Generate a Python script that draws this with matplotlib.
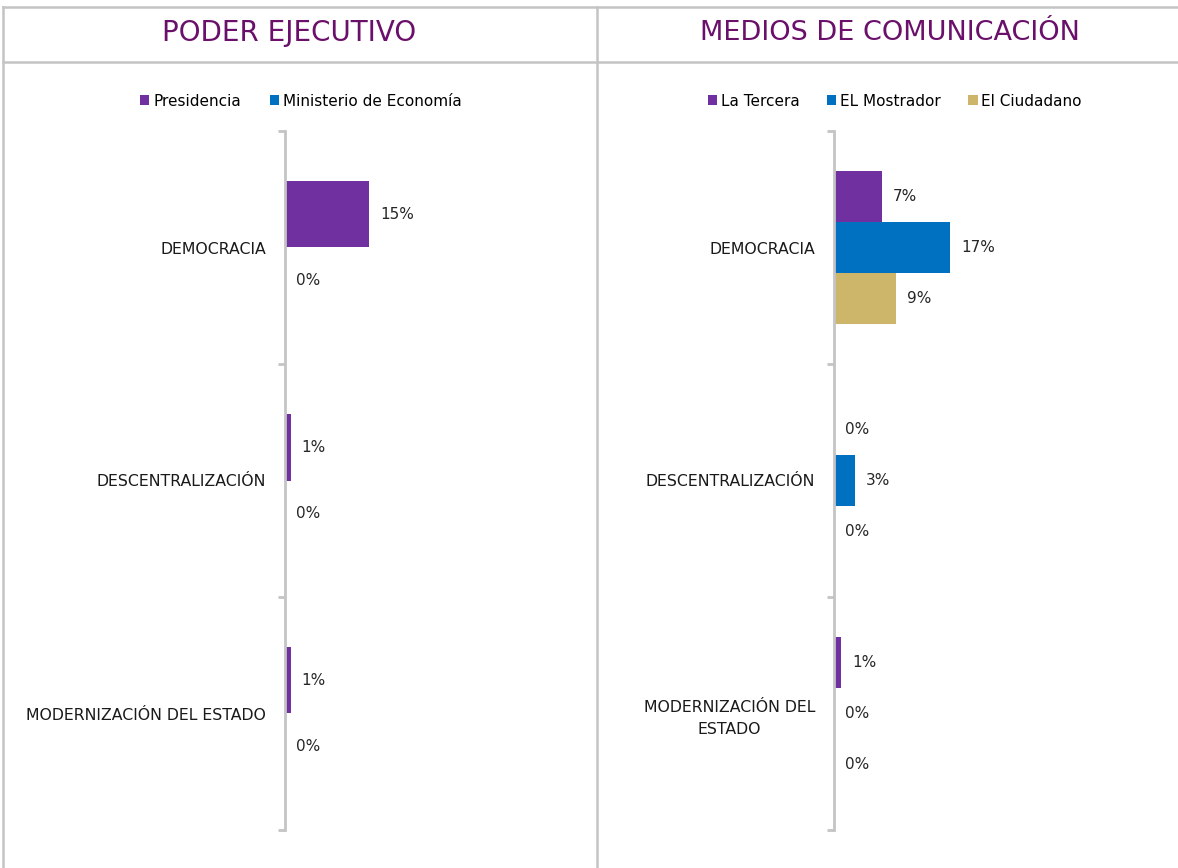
import numpy as np
import matplotlib.pyplot as plt
from matplotlib.lines import Line2D

W, H = 1178, 868

categorias = ["DEMOCRACIA", "DESCENTRALIZACIÓN", "MODERNIZACIÓN DEL ESTADO"]
categorias_der = ["DEMOCRACIA", "DESCENTRALIZACIÓN", "MODERNIZACIÓN DEL\nESTADO"]

# poder ejecutivo
series_izq = ["Presidencia", "Ministerio de Economía"]
presidencia = [15, 1, 1]
ministerio = [0, 0, 0]

# medios de comunicacion
series_der = ["La Tercera", "EL Mostrador", "El Ciudadano"]
la_tercera = [7, 0, 1]
el_mostrador = [17, 3, 0]
el_ciudadano = [9, 0, 0]

morado = "#7030A0"
azul = "#0070C0"
dorado = "#CDB56A"
gris = "#C4C4C4"
titulo_color = "#6A0F6A"
plt.rcParams['font.family'] = ['DejaVu Sans']

fig = plt.figure(figsize=(W / 100, H / 100), dpi=100)


def fx(px):
    return px / W


def fy(py):
    return 1 - py / H


# bordes de la tabla
for (x0, y0, x1, y1) in [(3, 7, W, 7), (3, 62, W, 62), (3, 7, 3, H), (597, 7, 597, H)]:
    fig.add_artist(Line2D([fx(x0), fx(x1)], [fy(y0), fy(y1)], color=gris, lw=1.8))

fig.text(fx(289), fy(33), "PODER EJECUTIVO", ha="center", va="center",
         fontsize=20, color=titulo_color, fontweight="medium")
fig.text(fx(890), fy(33), "MEDIOS DE COMUNICACIÓN", ha="center", va="center",
         fontsize=19.5, color=titulo_color, fontweight="medium")


def panel(x_axis, px_per_pct, cats, valores, colores, nombres, offs, alto, legend_x, colsp):
    ax_top, ax_bot = 131, 830
    width_px = 290
    ax = fig.add_axes([fx(x_axis), fy(ax_bot), fx(width_px), (ax_bot - ax_top) / H])
    y = np.arange(len(cats))
    for vals, col, nom, off in zip(valores, colores, nombres, offs):
        bars = ax.barh(y + off, vals, height=alto, color=col, label=nom)
        for b, v in zip(bars, vals):
            ax.text(b.get_width() + 11 / px_per_pct, b.get_y() + b.get_height() / 2,
                    f"{v}%", va="center", ha="left", fontsize=11, color="#262626")
    ax.set_xlim(0, width_px / px_per_pct)
    ax.set_ylim(2.5, -0.5)
    for s in ["top", "right", "bottom"]:
        ax.spines[s].set_visible(False)
    ax.spines["left"].set_color(gris)
    ax.spines["left"].set_linewidth(2)
    ax.set_xticks([])
    ax.set_yticks(y)
    ax.set_yticklabels(cats, fontsize=11.3, color="#1a1a1a", multialignment="center",
                       linespacing=1.55)
    ax.tick_params(axis="y", which="major", length=0, pad=13.5)
    ax.set_yticks([-0.5, 0.5, 1.5, 2.5], minor=True)
    ax.tick_params(axis="y", which="minor", length=5, width=2, color=gris)
    ax.patch.set_alpha(0)
    fig.legend(*ax.get_legend_handles_labels(), loc="center",
               bbox_to_anchor=(fx(legend_x), fy(101)), ncol=len(nombres), frameon=False,
               handlelength=0.6, handleheight=0.6, handletextpad=0.25,
               columnspacing=colsp, fontsize=11)
    return ax


panel(285, 5.6, categorias, [presidencia, ministerio], [morado, azul], series_izq,
      [-0.142, 0.142], 0.284, 301, 1.9)
panel(834, 6.85, categorias_der, [la_tercera, el_mostrador, el_ciudadano],
      [morado, azul, dorado], series_der, [-0.22, 0, 0.22], 0.219, 895, 1.8)

fig.savefig("out.png", dpi=100)
